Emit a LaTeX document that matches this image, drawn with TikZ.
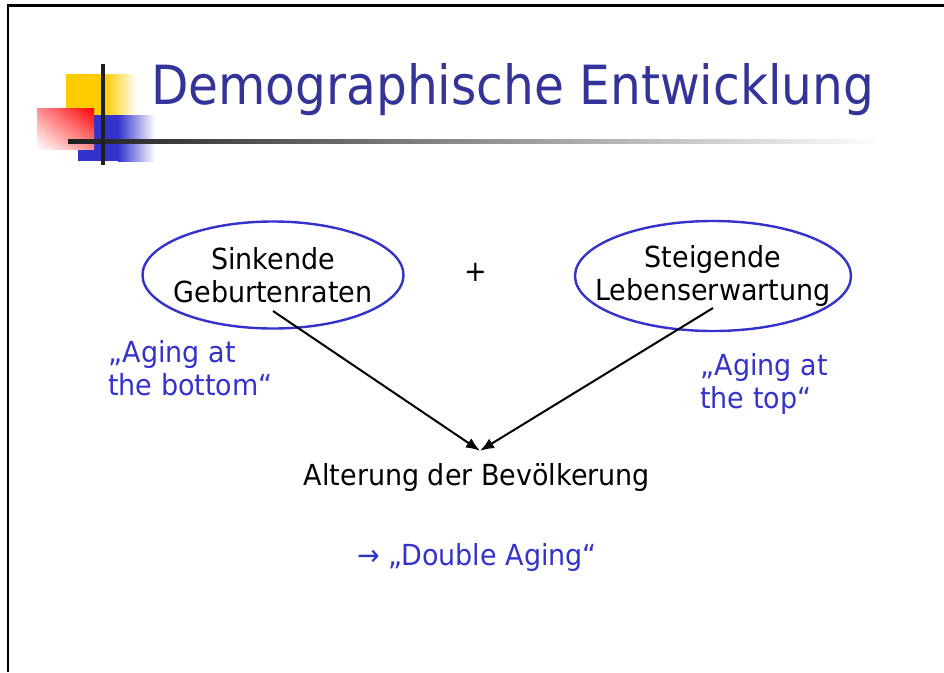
\documentclass[tikz,border=0pt]{standalone}
\usepackage{fontspec}
\setmainfont{DejaVu Sans}[FakeStretch=0.93]
\newfontfamily\titlefont{DejaVu Sans}[FakeStretch=0.9]
\usetikzlibrary{shapes.geometric,arrows.meta,shadings}
\definecolor{titleblue}{HTML}{333399}
\definecolor{textblue}{HTML}{3333CC}
\definecolor{logoyellow}{HTML}{FFCC00}

\begin{document}
\begin{tikzpicture}[x=1pt, y=-1pt,
	oval/.style={ellipse, draw=textblue, line width=2.4pt, align=center, inner sep=-30pt, font=\fontsize{29}{33}\selectfont},
	plain/.style={font=\fontsize{29}{33}\selectfont, inner sep=0pt},
	note/.style={plain, text=textblue, align=left, anchor=base west},
	arr/.style={-{Latex[length=14pt,width=11pt]}, line width=2pt}]
			
			\useasboundingbox (0,0) rectangle (944,672);
			% Frame
			\draw[line width=2.5pt] (8,672) -- (8,5.5) -- (944,5.5);
			
			% Logo
			\fill[logoyellow] (66,74) rectangle (105,115);
			\shade[left color=logoyellow, right color=white] (105,74) rectangle (137,115);
			\fill[textblue] (78,115) rectangle (118,161);
			\shade[left color=textblue, right color=white] (118,115) rectangle (155,161);
			\shade[upper right=red, lower left=white, upper left=red!45, lower right=red!45] (37,108) rectangle (94,149);
			\shade[left color=black!88, right color=white] (68,139.5) rectangle (885,143);
			\fill[black!88] (101,64) rectangle (105,165);
			
			% Title
			\node[font=\titlefont\fontsize{54}{60}\selectfont, text=titleblue, anchor=base west, inner sep=0pt] (title) at (151,104) {Demographische Entwicklung};
			
			% Nodes
			\node[oval, minimum width=261pt, minimum height=107pt] (birth) at (273,275) {Sinkende\\Geburtenraten};
			\node[oval, minimum width=276pt, minimum height=110pt] (life) at (713,276) {Steigende\\Lebenserwartung};
			\node[plain] (plus) at (476,272) {+};
			\node[plain, anchor=base] (aging) at (477,485) {Alterung der Bevölkerung};
			\node[note] (bottom) at (108,395) {„Aging at\\the bottom“};
			\node[note] (top) at (700,408) {„Aging at\\the top“};
			\node[plain, text=textblue, anchor=base] (double) at (477,565) {→ „Double Aging“};
			\coordinate (meet) at ([xshift=3pt,yshift=12pt]aging.north);
			
			% Edges
			\draw[arr] ([yshift=-36pt]birth.center) -- (meet);
			\draw[arr] ([yshift=-32pt]life.center) -- (meet);
			
		\end{tikzpicture}
\end{document}
